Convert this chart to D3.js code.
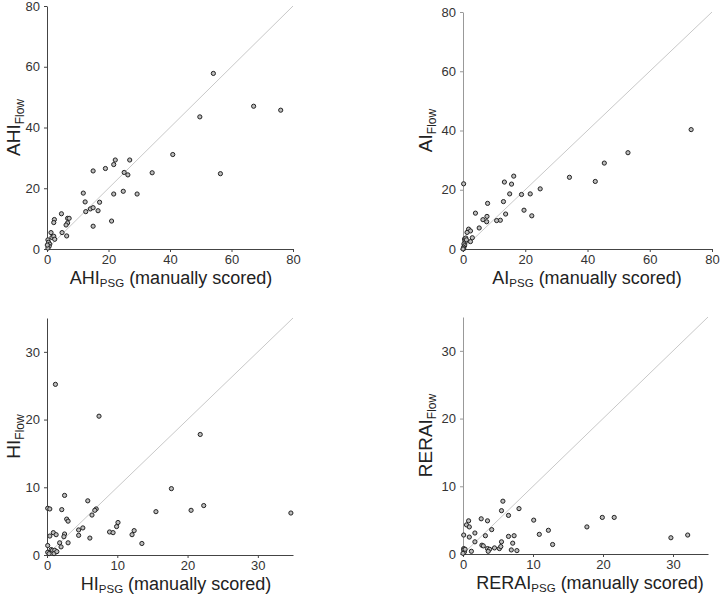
<!DOCTYPE html>
<html><head><meta charset="utf-8">
<script src="https://cdn.jsdelivr.net/npm/d3@7"></script>
<style>
body{margin:0;background:#fff;}
svg text{font-family:"Liberation Sans",Arial,sans-serif;}
</style></head>
<body>
<svg id="c" width="720" height="595"></svg>
<script>
// ---- data ----
const ahiPsg  = [54.1,67.2,76.0,49.7,40.9,56.4,34.2,26.9,22.2,21.7,19.0,15.0,25.1,26.3,24.8,21.7,29.3,11.8,12.4,17.1,12.6,14.1,15.0,16.6,21.0,15.0,4.7,2.4,2.2,6.7,7.2,6.7,6.2,4.9,1.3,6.4,1.6,2.2,2.5,0.3,0.5,0.9,0.7,0.3,0.1];
const ahiFlow = [57.8,47.0,45.7,43.5,31.1,24.8,25.1,29.3,29.3,27.8,26.5,25.7,25.2,24.4,19.0,18.1,18.1,18.4,15.5,15.4,12.3,13.2,13.6,12.6,9.2,7.5,11.6,9.7,8.7,10.1,10.1,8.6,7.9,5.4,5.4,4.3,3.8,4.2,3.2,3.0,2.2,1.6,0.9,0.3,1.3];

const aiPsg  = [73.3,53.0,45.4,42.5,34.2,24.8,21.6,18.8,15.0,16.3,13.3,15.6,13.0,19.6,22.1,13.7,12.0,10.8,7.9,7.7,7.6,6.4,4.0,5.2,0.2,1.8,2.4,1.3,3.0,2.4,0.5,0.6,0.7,0.3,0.5,0.2,0.2,0.9,1.1,0.0];
const aiFlow = [40.3,32.5,29.0,22.8,24.2,20.3,18.6,18.4,18.6,24.6,22.6,21.9,16.0,13.1,11.2,11.8,9.7,9.6,15.4,11.0,9.2,9.9,12.1,7.1,22.0,6.7,6.1,5.6,3.8,2.5,3.4,2.8,2.3,1.7,1.1,0.6,0.1,3.7,3.1,0.0];

const hiPsg  = [1.2,7.4,21.8,17.7,2.5,5.8,0.1,0.4,2.1,7.0,6.8,6.4,2.8,3.0,15.5,20.5,22.3,34.7,10.1,9.9,5.1,4.5,4.5,8.9,9.4,12.4,12.1,13.5,6.1,3.0,2.5,2.4,0.9,1.3,0.4,1.8,2.0,0.1,0.6,0.8,1.1,0.1,0.3,1.0,1.4];
const hiFlow = [25.2,20.5,17.8,9.8,8.8,8.0,6.9,6.8,6.7,6.8,6.6,5.9,5.3,5.0,6.4,6.6,7.3,6.2,4.8,4.2,4.0,3.7,2.9,3.4,3.3,3.6,3.0,1.7,2.5,1.8,3.1,2.7,3.3,3.0,2.8,1.8,1.2,1.4,0.8,0.7,0.7,0.4,0.2,0.2,0.5];

const reraiPsg  = [29.7,32.1,19.9,21.6,17.7,12.2,10.1,10.9,12.8,5.7,8.0,5.5,6.5,2.6,3.5,0.8,0.5,0.9,4.1,1.7,0.9,0.1,3.2,6.5,7.3,7.1,5.5,1.7,2.7,2.9,3.5,3.8,3.6,4.5,5.2,5.4,6.9,7.7,1.2,0.1,0.1,0.2,0.0,0.3];
const reraiFlow = [2.4,2.8,5.4,5.4,4.0,3.5,5.0,2.9,1.4,7.8,6.7,6.4,5.7,5.2,4.9,4.9,4.3,4.0,3.6,3.1,2.5,2.8,2.7,2.6,2.7,1.6,1.8,1.8,1.3,1.2,0.8,0.7,0.4,0.9,0.8,1.1,0.6,0.5,0.4,0.8,0.6,0.3,0.1,0.7];

const ticksBig = [0,20,40,60,80];
const ticksSmall = [0,10,20,30];
const names = ["AHI","AI","HI","RERAI"];

// ---- layout ----
const panels = [
  {name:names[0], xs:ahiPsg, ys:ahiFlow, max:80, ticks:ticksBig, x0:47, x1:293, y0:249, y1:6, yAxisCol:"#444", labX:20, titleCx:171},
  {name:names[1], xs:aiPsg, ys:aiFlow, max:80, ticks:ticksBig, x0:463, x1:712, y0:249, y1:12, yAxisCol:"#999", labX:432, titleCx:587},
  {name:names[2], xs:hiPsg, ys:hiFlow, max:35, ticks:ticksSmall, x0:47, x1:293, y0:555, y1:318, yAxisCol:"#444", labX:20, titleCx:176},
  {name:names[3], xs:reraiPsg, ys:reraiFlow, max:35, ticks:ticksSmall, x0:463, x1:708, y0:554, y1:317, yAxisCol:"#999", labX:432, titleCx:590}
];

const svg = d3.select("#c");

panels.forEach(p => {
  const x = d3.scaleLinear().domain([0,p.max]).range([p.x0,p.x1]);
  const y = d3.scaleLinear().domain([0,p.max]).range([p.y0,p.y1]);
  const g = svg.append("g");

  // identity line
  g.append("line")
    .attr("x1",x(0)).attr("y1",y(0)).attr("x2",x(p.max)).attr("y2",y(p.max))
    .attr("stroke","#c8c8c8").attr("stroke-width",1);

  // x axis
  const xa = g.append("g").attr("transform",`translate(0,${p.y0})`)
    .call(d3.axisBottom(x).tickValues(p.ticks).tickSize(3).tickPadding(3).tickSizeOuter(0));
  xa.select(".domain").attr("stroke","#444");
  xa.selectAll(".tick line").attr("stroke","#444");
  xa.selectAll("text").attr("font-size",13).attr("fill","#333");

  // y axis
  const ya = g.append("g").attr("transform",`translate(${p.x0},0)`)
    .call(d3.axisLeft(y).tickValues(p.ticks).tickSize(3).tickPadding(4).tickSizeOuter(0));
  ya.select(".domain").attr("stroke",p.yAxisCol);
  ya.selectAll(".tick line").attr("stroke",p.yAxisCol);
  ya.selectAll("text").attr("font-size",13).attr("fill","#333");

  // points
  g.append("g").selectAll("circle").data(p.xs.map((v,i)=>[v,p.ys[i]])).join("circle")
    .attr("cx",d=>x(d[0])).attr("cy",d=>y(d[1])).attr("r",2.1)
    .attr("fill","#bdbdbd").attr("stroke","#222").attr("stroke-width",1);

  // x title
  const xt = g.append("text").attr("x",p.titleCx).attr("y",p.y0+34.5)
    .attr("text-anchor","middle").attr("font-size",18).attr("fill","#222");
  xt.append("tspan").text(p.name);
  xt.append("tspan").attr("font-size",11.5).attr("dy",3).text("PSG");
  xt.append("tspan").attr("dy",-3).text(" (manually scored)");

  // y title
  const cy = (p.y0+p.y1)/2;
  const yt = g.append("text").attr("transform",`translate(${p.labX},${cy}) rotate(-90)`)
    .attr("text-anchor","middle").attr("font-size",19).attr("fill","#222");
  yt.append("tspan").text(p.name);
  yt.append("tspan").attr("font-size",12).attr("dy",4).text("Flow");
});
</script>
</body></html>
